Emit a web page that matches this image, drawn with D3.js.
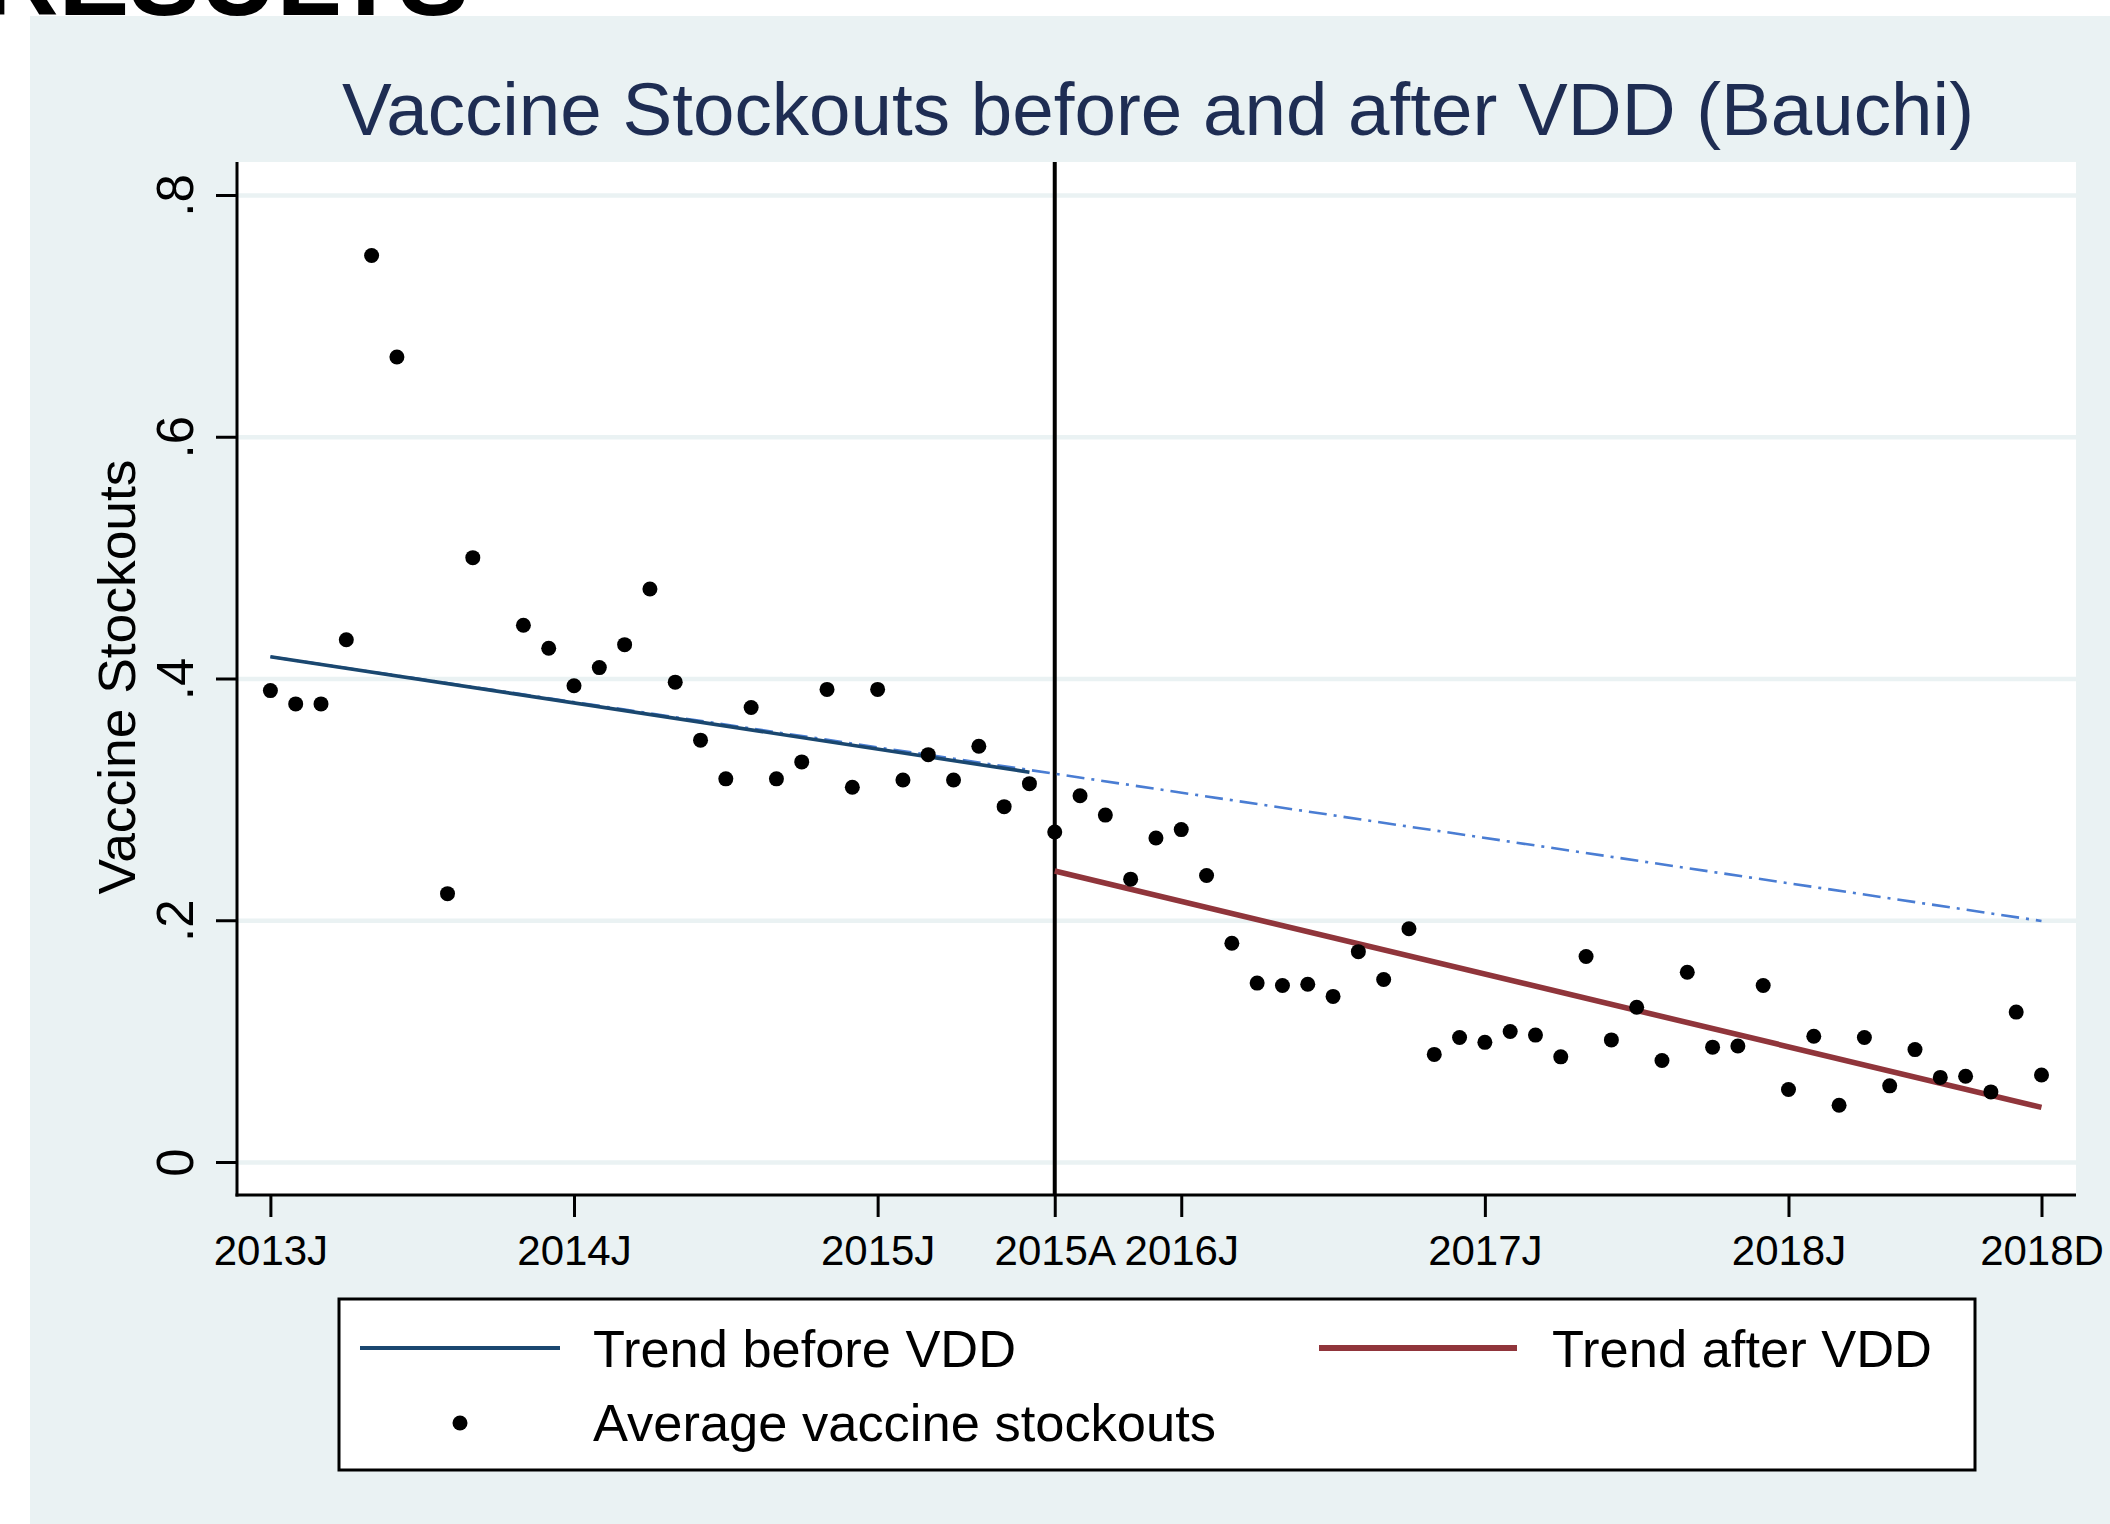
<!DOCTYPE html>
<html>
<head>
<meta charset="utf-8">
<script src="https://d3js.org/d3.v7.min.js"></script>
<style>
  html, body { margin: 0; padding: 0; background: #ffffff; }
  svg { display: block; }
  text { font-family: "Liberation Sans", Arial, Helvetica, sans-serif; }
</style>
</head>
<body>
<svg id="chart" width="2110" height="1524"></svg>
<script>
// ---------------- DATA ----------------
const chartTitle = "Vaccine Stockouts before and after VDD (Bauchi)";
const yAxisTitle = "Vaccine Stockouts";

// month index (0 = Jan 2013); months 6 and 9 have no observation
const monthIndex = [
  0, 1, 2, 3, 4, 5, 7, 8, 10, 11, 12, 13, 14, 15, 16, 17, 18, 19, 20, 21,
  22, 23, 24, 25, 26, 27, 28, 29, 30, 31, 32, 33, 34, 35, 36, 37, 38, 39, 40, 41,
  42, 43, 44, 45, 46, 47, 48, 49, 50, 51, 52, 53, 54, 55, 56, 57, 58, 59, 60, 61,
  62, 63, 64, 65, 66, 67, 68, 69, 70
];
const avgStockouts = [
  0.390, 0.379, 0.379, 0.432, 0.750, 0.666, 0.222, 0.500, 0.444, 0.425,
  0.394, 0.409, 0.428, 0.474, 0.397, 0.349, 0.317, 0.376, 0.317, 0.331,
  0.391, 0.310, 0.391, 0.316, 0.337, 0.316, 0.344, 0.294, 0.313, 0.273,
  0.303, 0.287, 0.234, 0.268, 0.275, 0.237, 0.181, 0.148, 0.146, 0.147,
  0.137, 0.174, 0.151, 0.193, 0.089, 0.103, 0.099, 0.108, 0.105, 0.087,
  0.170, 0.101, 0.128, 0.084, 0.157, 0.095, 0.096, 0.146, 0.060, 0.104,
  0.047, 0.103, 0.063, 0.093, 0.070, 0.071, 0.058, 0.124, 0.072
];

// fitted trends (month index, value)
const trendBefore = [[0, 0.418], [30, 0.3225]];
const trendAfter = [[31, 0.2407], [70, 0.0452]];
const trendProjected = [[0, 0.418], [70, 0.1994]];
const vddMonth = 31;

const xTickIndex = [0, 12, 24, 31, 36, 48, 60, 70];
const xTickLabels = ["2013J", "2014J", "2015J", "2015A", "2016J", "2017J", "2018J", "2018D"];
const yTickValues = [0, 0.2, 0.4, 0.6, 0.8];
const yTickLabels = ["0", ".2", ".4", ".6", ".8"];

const legendLabels = ["Trend before VDD", "Trend after VDD", "Average vaccine stockouts"];

// ---------------- LAYOUT ----------------
const W = 2110, H = 1524;
const plot = { left: 237, right: 2076, top: 162, bottom: 1195 };
const colors = {
  panel: "#EAF2F3",
  grid: "#EAF2F3",
  title: "#1E2D53",
  before: "#1A476F",
  after: "#90353B",
  projected: "#4A7DD3",
  ink: "#000000"
};

const svg = d3.select("#chart");

// header fragment above the panel (cut off in the source image)
svg.append("text")
  .attr("x", -18).attr("y", 15)
  .attr("font-size", 106).attr("font-weight", "bold")
  .attr("fill", "#000")
  .text("RESULTS");

// graph region
svg.append("rect").attr("x", 30).attr("y", 16).attr("width", W - 30).attr("height", H - 16)
  .attr("fill", colors.panel);

// plot region
svg.append("rect").attr("x", plot.left).attr("y", plot.top)
  .attr("width", plot.right - plot.left).attr("height", plot.bottom - plot.top)
  .attr("fill", "#ffffff");

const x = d3.scaleLinear().domain([0, 70]).range([270.4, 2041.5]);
const y = d3.scaleLinear().domain([0, 0.8]).range([1162, 195]);

// gridlines
const grid = svg.append("g").attr("transform", `translate(${plot.left},0)`)
  .call(d3.axisLeft(y).tickValues(yTickValues).tickSize(-(plot.right - plot.left)).tickFormat(""));
grid.select(".domain").remove();
grid.selectAll(".tick line").attr("stroke", colors.grid).attr("stroke-width", 4.5);

// title
svg.append("text")
  .attr("x", 1158).attr("y", 135)
  .attr("text-anchor", "middle")
  .attr("font-size", 74)
  .attr("fill", colors.title)
  .attr("textLength", 1632).attr("lengthAdjust", "spacingAndGlyphs")
  .text(chartTitle);

// vertical VDD line
svg.append("line")
  .attr("x1", x(vddMonth)).attr("x2", x(vddMonth))
  .attr("y1", plot.top).attr("y2", plot.bottom)
  .attr("stroke", colors.ink).attr("stroke-width", 4);

const line = d3.line().x(d => x(d[0])).y(d => y(d[1]));

// projected (dash-dot)
svg.append("path").datum(trendProjected)
  .attr("d", line).attr("fill", "none")
  .attr("stroke", colors.projected).attr("stroke-width", 2.6)
  .attr("stroke-dasharray", "18,7,3,7");

// trend before
svg.append("path").datum(trendBefore)
  .attr("d", line).attr("fill", "none")
  .attr("stroke", colors.before).attr("stroke-width", 3.6);

// trend after
svg.append("path").datum(trendAfter)
  .attr("d", line).attr("fill", "none")
  .attr("stroke", colors.after).attr("stroke-width", 5.6);

// points
const pts = monthIndex.map((m, i) => ({ m, v: avgStockouts[i] }));
svg.append("g").selectAll("circle").data(pts).join("circle")
  .attr("cx", d => x(d.m)).attr("cy", d => y(d.v)).attr("r", 7.5)
  .attr("fill", colors.ink);

// y axis
const yAxis = svg.append("g").attr("transform", `translate(${plot.left},0)`)
  .call(d3.axisLeft(y).tickValues(yTickValues).tickSize(21).tickFormat((d, i) => yTickLabels[i]));
yAxis.select(".domain").remove();
yAxis.selectAll(".tick line").attr("stroke", colors.ink).attr("stroke-width", 3);
yAxis.selectAll(".tick text")
  .attr("x", null).attr("dy", null)
  .attr("text-anchor", "middle")
  .attr("transform", "translate(-44,0) rotate(-90)")
  .attr("font-size", 51)
  .attr("fill", colors.ink);
svg.append("line").attr("x1", plot.left).attr("x2", plot.left)
  .attr("y1", plot.top).attr("y2", plot.bottom + 1.5)
  .attr("stroke", colors.ink).attr("stroke-width", 3);

// x axis
const xAxis = svg.append("g").attr("transform", `translate(0,${plot.bottom})`)
  .call(d3.axisBottom(x).tickValues(xTickIndex).tickSize(22).tickFormat((d, i) => xTickLabels[i]));
xAxis.select(".domain").remove();
xAxis.selectAll(".tick line").attr("stroke", colors.ink).attr("stroke-width", 3);
xAxis.selectAll(".tick text")
  .attr("y", 70).attr("dy", null)
  .attr("font-size", 42)
  .attr("fill", colors.ink);
svg.append("line").attr("x1", plot.left - 1.5).attr("x2", plot.right)
  .attr("y1", plot.bottom).attr("y2", plot.bottom)
  .attr("stroke", colors.ink).attr("stroke-width", 3);

// y axis title
svg.append("text")
  .attr("transform", "translate(135,677) rotate(-90)")
  .attr("text-anchor", "middle")
  .attr("font-size", 52)
  .attr("fill", colors.ink)
  .attr("textLength", 435).attr("lengthAdjust", "spacingAndGlyphs")
  .text(yAxisTitle);

// legend
const lg = svg.append("g");
lg.append("rect").attr("x", 339).attr("y", 1299).attr("width", 1636).attr("height", 171)
  .attr("fill", "#ffffff").attr("stroke", colors.ink).attr("stroke-width", 3);
lg.append("line").attr("x1", 360).attr("x2", 560).attr("y1", 1348).attr("y2", 1348)
  .attr("stroke", colors.before).attr("stroke-width", 3.8);
lg.append("text").attr("x", 593).attr("y", 1367).attr("font-size", 52).attr("fill", colors.ink)
  .attr("textLength", 423).attr("lengthAdjust", "spacingAndGlyphs")
  .text(legendLabels[0]);
lg.append("line").attr("x1", 1319).attr("x2", 1517).attr("y1", 1348).attr("y2", 1348)
  .attr("stroke", colors.after).attr("stroke-width", 6);
lg.append("text").attr("x", 1552).attr("y", 1367).attr("font-size", 52).attr("fill", colors.ink)
  .attr("textLength", 380).attr("lengthAdjust", "spacingAndGlyphs")
  .text(legendLabels[1]);
lg.append("circle").attr("cx", 460).attr("cy", 1423).attr("r", 7.5).attr("fill", colors.ink);
lg.append("text").attr("x", 593).attr("y", 1441).attr("font-size", 52).attr("fill", colors.ink)
  .attr("textLength", 623).attr("lengthAdjust", "spacingAndGlyphs")
  .text(legendLabels[2]);
</script>
</body>
</html>
